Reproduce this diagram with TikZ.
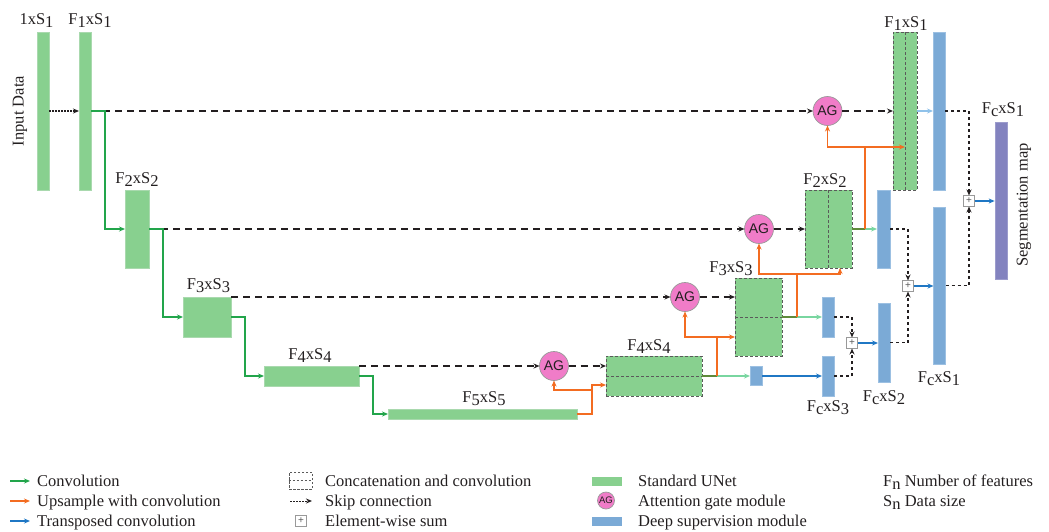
\documentclass[tikz,border=0pt]{standalone}
\usepackage{fontspec}
\setmainfont{Liberation Serif}
\newfontfamily\agfont{Liberation Sans}
\usetikzlibrary{arrows.meta}
\definecolor{gfill}{HTML}{88D08F}
\definecolor{gline}{HTML}{A9D9AE}
\definecolor{bfill}{HTML}{7BAAD6}
\definecolor{bline}{HTML}{9CC0E2}
\definecolor{agfill}{HTML}{F07CC8}
\definecolor{purp}{HTML}{8383BF}
\definecolor{convc}{HTML}{22A54B}
\definecolor{upc}{HTML}{F36C21}
\definecolor{trc}{HTML}{1F77C4}
\definecolor{lgc}{HTML}{79D6A0}
\definecolor{lbc}{HTML}{90C2EA}
\definecolor{olc}{HTML}{5E8A3A}
\definecolor{dgrey}{HTML}{5A5A5A}
\definecolor{txt}{HTML}{231F20}
\newcommand{\dn}[1]{\raisebox{-3pt}{#1}}
\begin{document}
\begin{tikzpicture}[x=1pt,y=-1pt,
  font=\fontsize{16.5}{18}\selectfont, text=txt,
  tip/.style={-{Stealth[length=6pt,width=5pt]}},
  gbox/.style={draw=gline, fill=gfill, line width=0.7pt, inner sep=0pt, outer sep=0pt},
  cbox/.style={draw=dgrey, fill=gfill, line width=1pt, dash pattern=on 3pt off 2pt, inner sep=0pt, outer sep=0pt},
  bbox/.style={draw=bline, fill=bfill, line width=0.7pt, inner sep=0pt, outer sep=0pt},
  agnode/.style={circle, draw=gray!80, fill=agfill, line width=0.7pt, minimum size=29pt, inner sep=0pt, outer sep=0pt, font=\agfont\fontsize{14}{14}\selectfont},
  plusnode/.style={draw=gray!80, fill=white, line width=0.7pt, minimum size=11pt, inner sep=0pt, outer sep=0pt, font=\agfont\fontsize{10}{10}\selectfont, text=dgrey},
  midl/.style={draw=dgrey, line width=1pt, dash pattern=on 3pt off 2pt},
  conv/.style={tip, draw=convc, line width=1.4pt},
  up/.style={tip, draw=upc, line width=1.6pt},
  upl/.style={draw=upc, line width=1.6pt},
  tr/.style={tip, draw=trc, line width=1.6pt},
  lg/.style={tip, draw=lgc, line width=1.6pt},
  lb/.style={tip, draw=lbc, line width=1.6pt},
  ol/.style={draw=olc, line width=1.6pt},
  skip/.style={tip, draw=txt, line width=1.3pt, dash pattern=on 7pt off 5pt},
  ds/.style={tip, draw=txt, line width=1.2pt, dash pattern=on 3pt off 3pt},
  dotl/.style={tip, draw=txt, line width=1.2pt, dash pattern=on 1.5pt off 1.5pt},
  lab/.style={anchor=base, inner sep=0pt},
  leg/.style={anchor=base west, inner sep=0pt}
]
\useasboundingbox (0,0) rectangle (1049,531);

% ---------------- encoder ----------------
\node[gbox, minimum width=12pt, minimum height=158pt] (in) at (43,111) {};
\node[gbox, minimum width=12pt, minimum height=158pt] (f1) at (85,111) {};
\node[gbox, minimum width=24pt, minimum height=78pt] (f2) at (137,229) {};
\node[gbox, minimum width=48pt, minimum height=40pt] (f3) at (207,317) {};
\node[gbox, minimum width=95pt, minimum height=20pt] (f4) at (311.5,376) {};
\node[gbox, minimum width=189pt, minimum height=10pt] (f5) at (482.5,414) {};

\node[rotate=90, inner sep=0pt] (inlab) at (20,111) {Input Data};
\node[lab] (l1) at (36.5,24) {1xS\dn{1}};
\node[lab] (l2) at (90,24) {F\dn{1}xS\dn{1}};
\node[lab] (l3) at (137,183) {F\dn{2}xS\dn{2}};
\node[lab] (l4) at (208.5,289) {F\dn{3}xS\dn{3}};
\node[lab] (l5) at (310,359) {F\dn{4}xS\dn{4}};
\node[lab] (l6) at (484,402) {F\dn{5}xS\dn{5}};

% ---------------- attention gates ----------------
\node[agnode] (ag1) at (827.5,111) {AG};
\node[agnode] (ag2) at (759,229) {AG};
\node[agnode] (ag3) at (685,297) {AG};
\node[agnode] (ag4) at (554,366) {AG};

% ---------------- decoder ----------------
\node[cbox, minimum width=24pt, minimum height=158pt] (d1) at (905,111) {};
\node[cbox, minimum width=47pt, minimum height=78pt] (d2) at (828.5,229) {};
\node[cbox, minimum width=47pt, minimum height=78pt] (d3) at (758.5,317) {};
\node[cbox, minimum width=96pt, minimum height=40pt] (d4) at (654,376) {};
\draw[midl] (d1.north) -- (d1.south);
\draw[midl] (d2.north) -- (d2.south);
\draw[midl] (d3.west) -- (d3.east);
\draw[midl] (d4.west) -- (d4.east);

\node[lab] (l7) at (906,27) {F\dn{1}xS\dn{1}};
\node[lab] (l8) at (825,184) {F\dn{2}xS\dn{2}};
\node[lab] (l9) at (731,272) {F\dn{3}xS\dn{3}};
\node[lab] (l10) at (649,350) {F\dn{4}xS\dn{4}};

% ---------------- deep supervision ----------------
\node[bbox, minimum width=12pt, minimum height=158pt] (ds1) at (939,111) {};
\node[bbox, minimum width=12pt, minimum height=157pt] (ds0) at (939.5,285.5) {};
\node[bbox, minimum width=13pt, minimum height=78pt] (ds2) at (883.5,229) {};
\node[bbox, minimum width=12pt, minimum height=79pt] (dsc2) at (884,342.5) {};
\node[bbox, minimum width=12pt, minimum height=40pt] (ds3) at (828,317) {};
\node[bbox, minimum width=12pt, minimum height=40pt] (dsc3) at (828,376) {};
\node[bbox, minimum width=12pt, minimum height=19pt] (ds4) at (756,376) {};
\node[draw=purp!80, fill=purp, line width=0.7pt, inner sep=0pt, minimum width=12pt, minimum height=157pt] (seg) at (1001,200.5) {};

\node[plusnode] (p1) at (969,201) {+};
\node[plusnode] (p2) at (908,286) {+};
\node[plusnode] (p3) at (852,343) {+};

\node[lab] (l11) at (1003,113) {F\dn{c}xS\dn{1}};
\node[lab] (l12) at (939,382) {F\dn{c}xS\dn{1}};
\node[lab] (l13) at (884,401) {F\dn{c}xS\dn{2}};
\node[lab] (l14) at (828,411) {F\dn{c}xS\dn{3}};
\node[rotate=90, inner sep=0pt] (seglab) at (1024,205) {Segmentation map};

% ---------------- skip connections ----------------
\draw[dotl] (in.east) -- (f1.west);
\draw[skip] (f1.east) -- (ag1.west);
\draw[skip] (ag1.east) -- (d1.west);
\draw[skip] (f2.east) -- (ag2.west);
\draw[skip] (ag2.east) -- (d2.west);
\draw[skip] (f3.north east) -- (ag3.west);
\draw[skip] (ag3.east) -- (ag3.east -| d3.west);
\draw[skip] (f4.north east) -- (ag4.west);
\draw[skip] (ag4.east) -- (ag4.east -| d4.west);

% ---------------- convolutions ----------------
\draw[conv] (f1.east) -- ++(14,0) |- (f2.west);
\draw[conv] (f2.east) -- ++(14,0) |- (f3.west);
\draw[conv] (f3.east) -- ++(14,0) |- (f4.west);
\draw[conv] (f4.east) -- ++(14,0) |- (f5.west);

% ---------------- upsampling ----------------
\coordinate (j4) at (592,390);
\draw[up] (f5.east) -- ++(15,0) |- ([yshift=-9pt]d4.west);
\draw[up] (j4) -| (ag4.south);

\coordinate (o4) at (717,376);
\coordinate (j3) at (717,337);
\draw[ol] (d4.east) -- (o4);
\draw[lg] (o4) -- (ds4.west);
\draw[upl] (o4) -- (j3);
\draw[up] (j3) -- (j3 -| d3.west);
\draw[up] (j3) -| (ag3.south);

\coordinate (o3) at (797,317);
\coordinate (j2) at (797,274);
\draw[ol] (d3.east) -- (o3);
\draw[lg] (o3) -- (ds3.west);
\draw[upl] (o3) -- (j2);
\draw[up] (j2) -| ([xshift=11.5pt]d2.south);
\draw[up] (j2) -| (ag2.south);

\coordinate (o2) at (865,229);
\coordinate (j1) at (865,147);
\draw[ol] (d2.east) -- (o2);
\draw[lg] (o2) -- (ds2.west);
\draw[upl] (o2) -- (j1);
\draw[up] (j1) -- (j1 -| d1.center);
\draw[up] (j1) -| (ag1.south);

\draw[lb] (d1.east) -- (ds1.west);

% ---------------- deep supervision sums ----------------
\draw[ds] (ds1.east) -| (p1.north);
\draw[ds] (ds0.east) -| (p1.south);
\draw[tr] (p1.east) -- (p1.east -| seg.west);
\draw[ds] (ds2.east) -| (p2.north);
\draw[ds] (dsc2.east) -| (p2.south);
\draw[tr] (p2.east) -- (p2.east -| ds0.west);
\draw[ds] (ds3.east) -| (p3.north);
\draw[ds] (dsc3.east) -| (p3.south);
\draw[tr] (p3.east) -- (p3.east -| dsc2.west);
\draw[tr] (ds4.east) -- (dsc3.west);

% ---------------- legend ----------------
\coordinate (a1s) at (10,481); \coordinate (a1e) at (30,481);
\coordinate (a2s) at (10,501); \coordinate (a2e) at (30,501);
\coordinate (a3s) at (10,521); \coordinate (a3e) at (30,521);
\draw[conv, line width=1.3pt] (a1s) -- (a1e);
\draw[up, line width=1.3pt] (a2s) -- (a2e);
\draw[tr, line width=1.3pt] (a3s) -- (a3e);
\node[leg] (t1) at (37,486) {Convolution};
\node[leg] (t2) at (37,506) {Upsample with convolution};
\node[leg] (t3) at (37,526) {Transposed convolution};

\node[draw=dgrey, line width=0.8pt, dash pattern=on 2.5pt off 1.5pt, minimum width=23pt, minimum height=17pt, inner sep=0pt] (lc) at (300.5,480.5) {};
\draw[draw=dgrey, line width=0.8pt, dash pattern=on 2.5pt off 1.5pt] (lc.west) -- (lc.east);
\coordinate (b2s) at (290,501); \coordinate (b2e) at (312,501);
\draw[dotl, line width=1pt] (b2s) -- (b2e);
\node[plusnode] (lp) at (301,521) {+};
\node[leg] (t4) at (325,486) {Concatenation and convolution};
\node[leg] (t5) at (325,506) {Skip connection};
\node[leg] (t6) at (325,526) {Element-wise sum};

\node[fill=gfill, minimum width=30pt, minimum height=9pt, inner sep=0pt] (lg1) at (607,481.5) {};
\node[agnode, minimum size=17pt, font=\agfont\fontsize{9.5}{9.5}\selectfont] (lag) at (606,500.5) {AG};
\node[fill=bfill, minimum width=30pt, minimum height=9pt, inner sep=0pt] (lb1) at (607,521.5) {};
\node[leg] (t7) at (638,486) {Standard UNet};
\node[leg] (t8) at (638,506) {Attention gate module};
\node[leg] (t9) at (638,526) {Deep supervision module};

\node[leg] (t10) at (883,486) {F\dn{n} Number of features};
\node[leg] (t11) at (883,506) {S\dn{n} Data size};
\end{tikzpicture}
\end{document}
